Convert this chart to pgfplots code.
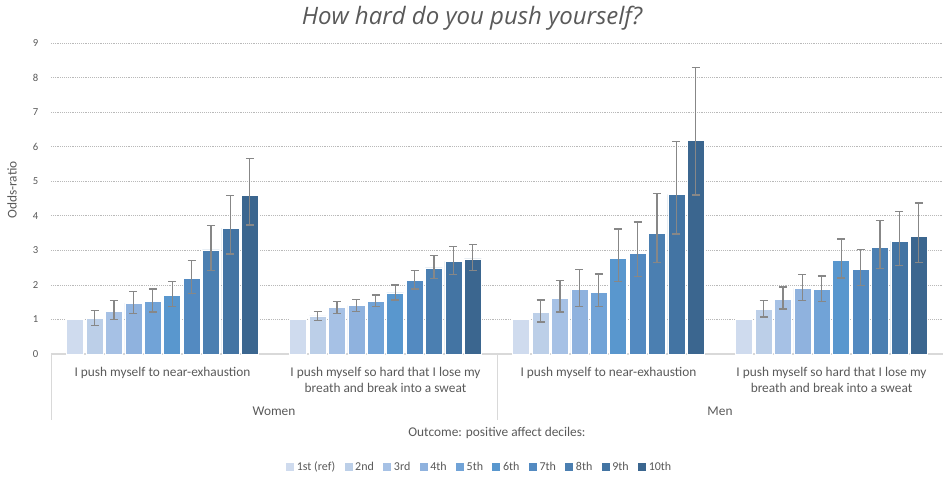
\documentclass[border=0pt]{standalone}
\usepackage{fontspec}
\setmainfont{Carlito}
\newfontfamily\titlefont{Open Sans}
\usepackage{pgfplots}
\usepackage{pgfplotstable}
\pgfplotsset{compat=1.18}
\definecolor{c1}{RGB}{207,219,238}
\definecolor{c2}{RGB}{188,207,232}
\definecolor{c3}{RGB}{166,193,229}
\definecolor{c4}{RGB}{143,178,222}
\definecolor{c5}{RGB}{113,163,215}
\definecolor{c6}{RGB}{89,151,206}
\definecolor{c7}{RGB}{83,138,193}
\definecolor{c8}{RGB}{75,127,177}
\definecolor{c9}{RGB}{67,116,163}
\definecolor{c10}{RGB}{59,102,143}
\definecolor{txt}{RGB}{89,89,89}
\definecolor{errc}{RGB}{135,135,135}

\pgfplotstableread{
x y hi lo
0.5 1 1 1
1.5 1 1 1
2.5 1 1 1
3.5 1 1 1
}\done
\pgfplotstableread{
x y hi lo
0.5 1.02 1.25 0.82
1.5 1.10 1.23 0.97
2.5 1.20 1.56 0.93
3.5 1.28 1.54 1.07
}\dtwo
\pgfplotstableread{
x y hi lo
0.5 1.24 1.55 0.99
1.5 1.34 1.52 1.18
2.5 1.61 2.12 1.22
3.5 1.59 1.94 1.30
}\dthree
\pgfplotstableread{
x y hi lo
0.5 1.47 1.81 1.17
1.5 1.41 1.57 1.23
2.5 1.86 2.44 1.37
3.5 1.90 2.30 1.54
}\dfour
\pgfplotstableread{
x y hi lo
0.5 1.52 1.88 1.22
1.5 1.53 1.71 1.37
2.5 1.78 2.32 1.37
3.5 1.86 2.26 1.52
}\dfive
\pgfplotstableread{
x y hi lo
0.5 1.69 2.10 1.37
1.5 1.77 2.00 1.56
2.5 2.76 3.62 2.09
3.5 2.71 3.33 2.20
}\dsix
\pgfplotstableread{
x y hi lo
0.5 2.19 2.70 1.75
1.5 2.12 2.41 1.88
2.5 2.92 3.82 2.24
3.5 2.46 3.02 1.98
}\dseven
\pgfplotstableread{
x y hi lo
0.5 3.01 3.72 2.42
1.5 2.49 2.85 2.18
2.5 3.50 4.64 2.64
3.5 3.09 3.86 2.48
}\deight
\pgfplotstableread{
x y hi lo
0.5 3.64 4.59 2.89
1.5 2.68 3.11 2.31
2.5 4.62 6.15 3.47
3.5 3.27 4.12 2.57
}\dnine
\pgfplotstableread{
x y hi lo
0.5 4.59 5.65 3.73
1.5 2.75 3.16 2.41
2.5 6.18 8.30 4.60
3.5 3.40 4.37 2.65
}\dten

\pgfplotsset{
  eb/.style={
    error bars/y dir=both, error bars/y explicit,
    error bars/error bar style={errc, line width=1pt},
    error bars/error mark options={rotate=90, errc, mark size=3pt, line width=1pt}
  },
  bs/.style={fill=#1, draw=white, line width=0.5pt}
}

\begin{document}
\begin{tikzpicture}
\path[use as bounding box] (-38.25pt,-91.5pt) rectangle (669pt,265.5pt);
\begin{axis}[
  scale only axis, width=669pt, height=233.25pt,
  xmin=0, xmax=4, ymin=0, ymax=9,
  ybar=1.8pt, bar width=12.75pt,
  ytick={0,...,9}, xtick=\empty,
  ymajorgrids, grid style={densely dotted, gray!55, line width=0.5pt},
  axis line style={draw=none},
  major tick length=0pt,
  yticklabel style={font=\footnotesize, text=txt, xshift=-6pt},
  /pgf/number format/assume math mode=true,
  clip=false,
  legend style={draw=none, at={(0.481,0)}, anchor=center, yshift=-85pt,
    legend columns=10, font=\small, text=txt,
    /tikz/every even column/.append style={column sep=5pt}},
  legend image code/.code={\fill[#1, draw=none] (0pt,-3pt) rectangle (6pt,3pt);},
]
\draw[gray!30, line width=0.8pt] (axis cs:0,0) -- (axis cs:4,0);
\addplot[bs=c1] table[x=x, y=y] {\done};
\addplot[bs=c2, eb] table[x=x, y=y, y error plus expr=\thisrow{hi}-\thisrow{y}, y error minus expr=\thisrow{y}-\thisrow{lo}] {\dtwo};
\addplot[bs=c3, eb] table[x=x, y=y, y error plus expr=\thisrow{hi}-\thisrow{y}, y error minus expr=\thisrow{y}-\thisrow{lo}] {\dthree};
\addplot[bs=c4, eb] table[x=x, y=y, y error plus expr=\thisrow{hi}-\thisrow{y}, y error minus expr=\thisrow{y}-\thisrow{lo}] {\dfour};
\addplot[bs=c5, eb] table[x=x, y=y, y error plus expr=\thisrow{hi}-\thisrow{y}, y error minus expr=\thisrow{y}-\thisrow{lo}] {\dfive};
\addplot[bs=c6, eb] table[x=x, y=y, y error plus expr=\thisrow{hi}-\thisrow{y}, y error minus expr=\thisrow{y}-\thisrow{lo}] {\dsix};
\addplot[bs=c7, eb] table[x=x, y=y, y error plus expr=\thisrow{hi}-\thisrow{y}, y error minus expr=\thisrow{y}-\thisrow{lo}] {\dseven};
\addplot[bs=c8, eb] table[x=x, y=y, y error plus expr=\thisrow{hi}-\thisrow{y}, y error minus expr=\thisrow{y}-\thisrow{lo}] {\deight};
\addplot[bs=c9, eb] table[x=x, y=y, y error plus expr=\thisrow{hi}-\thisrow{y}, y error minus expr=\thisrow{y}-\thisrow{lo}] {\dnine};
\addplot[bs=c10, eb] table[x=x, y=y, y error plus expr=\thisrow{hi}-\thisrow{y}, y error minus expr=\thisrow{y}-\thisrow{lo}] {\dten};
\legend{1st (ref),2nd,3rd,4th,5th,6th,7th,8th,9th,10th}

\draw[gray!30, line width=0.6pt] (axis cs:0,0) -- ++(0,-49.5pt);
\draw[gray!30, line width=0.6pt] (axis cs:2,0) -- ++(0,-49.5pt);
\draw[gray!30, line width=0.6pt] (axis cs:4,0) -- ++(0,-49.5pt);
\node[text=txt, align=center, anchor=north, yshift=-6.5pt] at (axis cs:0.5,0) {I push myself to near-exhaustion};
\node[text=txt, align=center, anchor=north, yshift=-6.5pt] at (axis cs:1.5,0) {I push myself so hard that I lose my\\breath and break into a sweat};
\node[text=txt, align=center, anchor=north, yshift=-6.5pt] at (axis cs:2.5,0) {I push myself to near-exhaustion};
\node[text=txt, align=center, anchor=north, yshift=-6.5pt] at (axis cs:3.5,0) {I push myself so hard that I lose my\\breath and break into a sweat};
\node[text=txt, yshift=-42.75pt] at (axis cs:1,0) {Women};
\node[text=txt, yshift=-42.75pt] at (axis cs:3,0) {Men};
\node[text=txt, yshift=-59.25pt] at (axis cs:2,0) {Outcome: positive affect deciles:};
\node[text=txt, rotate=90] at (axis description cs:-0.0437,0.527) {Odds-ratio};
\node[text=txt, font=\titlefont\fontsize{18}{22}\selectfont\itshape] at (axis description cs:0.472,1.08) {How hard do you push yourself?};
\end{axis}
\end{tikzpicture}
\end{document}
